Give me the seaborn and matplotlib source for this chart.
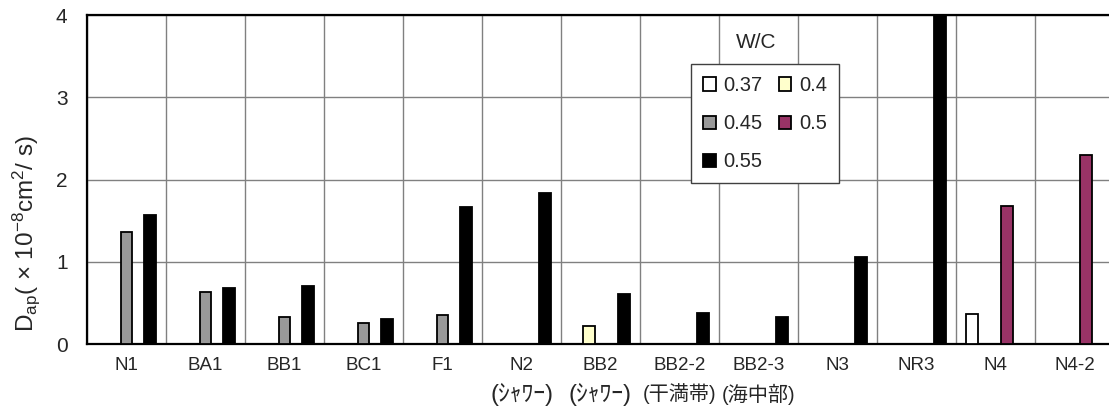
import numpy as np
import pandas as pd
import matplotlib
matplotlib.use("Agg")
import matplotlib.pyplot as plt
import matplotlib.transforms as mtransforms
from matplotlib.ticker import FixedLocator
import seaborn as sns

# Specimen codes along the x axis and their exposure notes (second line)
sites = ["N1", "BA1", "BB1", "BC1", "F1", "N2", "BB2", "BB2-2", "BB2-3",
         "N3", "NR3", "N4", "N4-2"]
exposure = ["", "", "", "", "", "(ｼｬﾜｰ)", "(ｼｬﾜｰ)", "(干満帯)", "(海中部)",
            "", "", "", ""]

# Water/cement ratio series
wc_levels = ["0.37", "0.4", "0.45", "0.5", "0.55"]
nan = np.nan
d_037 = [nan, nan, nan, nan, nan, nan, nan, nan, nan, nan, nan, 0.37, nan]
d_040 = [nan, nan, nan, nan, nan, nan, 0.22, nan, nan, nan, nan, nan, nan]
d_045 = [1.36, 0.63, 0.33, 0.25, 0.35, nan, nan, nan, nan, nan, nan, nan, nan]
d_050 = [nan, nan, nan, nan, nan, nan, nan, nan, nan, nan, nan, 1.68, 2.30]
d_055 = [1.57, 0.68, 0.71, 0.31, 1.66, 1.84, 0.61, 0.38, 0.33, 1.06, 4.0, nan, nan]

wc_colors = ["#FFFFFF", "#FFFFCC", "#999999", "#993366", "#000000"]

series = dict(zip(wc_levels, [d_037, d_040, d_045, d_050, d_055]))
rows = []
for wc, vals in series.items():
    for site, v in zip(sites, vals):
        if not np.isnan(v):
            rows.append({"site": site, "wc": wc, "dap": v})
df = pd.DataFrame(rows)

sns.set_style("white")
plt.rcParams["font.family"] = ["Liberation Sans", "Noto Sans CJK JP"]
plt.rcParams["mathtext.fontset"] = "custom"
plt.rcParams["mathtext.rm"] = "Liberation Sans"
plt.rcParams["mathtext.it"] = "Liberation Sans:italic"

W, H = 1109, 419
fig = plt.figure(figsize=(W / 100, H / 100), dpi=100)
ax = fig.add_axes([87 / W, 1 - 344 / H, (1114 - 87) / W, (344 - 15) / H])

sns.barplot(data=df, x="site", y="dap", hue="wc", order=sites,
            hue_order=wc_levels, palette=wc_colors, errorbar=None,
            width=0.75, gap=0, edgecolor="black", linewidth=1.3,
            saturation=1, ax=ax, zorder=3)

handles, labels = ax.get_legend_handles_labels()
if ax.get_legend() is not None:
    ax.get_legend().remove()

ax.set_ylim(0, 4)
ax.set_xlim(-0.5, len(sites) - 0.5)
ax.set_yticks([0, 1, 2, 3, 4])
ax.xaxis.set_minor_locator(FixedLocator(np.arange(-0.5, len(sites), 1.0)))
ax.grid(axis="y", which="major", color="#808080", linewidth=1.0, zorder=0)
ax.grid(axis="x", which="minor", color="#808080", linewidth=1.0, zorder=0)
ax.grid(axis="x", which="major", visible=False)
ax.set_axisbelow(True)

for side in ["left", "bottom", "top", "right"]:
    ax.spines[side].set_color("black")
    ax.spines[side].set_linewidth(1.6)

ax.tick_params(axis="both", which="both", length=0)
ax.tick_params(axis="y", labelsize=15, pad=14)
ax.tick_params(axis="x", labelsize=13.5, pad=9)
ax.set_xlabel("")
ax.set_ylabel("")

# Exposure condition under the specimen code
trans = mtransforms.blended_transform_factory(ax.transData, ax.transAxes)
for i, note in enumerate(exposure):
    if note:
        size = 17 if "ｼ" in note else 14.5
        ax.text(i, -0.152, note, transform=trans, ha="center", va="center",
                fontsize=size)

fig.text(26 / W, 1 - 234 / H,
         r"D$_{\mathrm{ap}}$( × 10$^{-8}$cm$^{2}$/ s)",
         rotation=90, ha="center", va="center", fontsize=17.5)

# Legend laid out row by row: 0.37 0.4 / 0.45 0.5 / 0.55
order = [0, 2, 4, 1, 3]
leg = ax.legend([handles[i] for i in order], [labels[i] for i in order],
                ncol=2, loc="upper left",
                bbox_to_anchor=(691 / W, 1 - 64 / H),
                bbox_transform=fig.transFigure,
                frameon=True, fancybox=False, shadow=False,
                edgecolor="#404040", framealpha=1, fontsize=14.5,
                handlelength=0.62, handleheight=0.62, handletextpad=0.4,
                columnspacing=0.8, labelspacing=0.95, borderpad=0.6,
                borderaxespad=0)
leg.get_frame().set_linewidth(1.0)
leg.set_zorder(5)

fig.text(756 / W, 1 - 43 / H, "W/C", ha="center", va="center", fontsize=15)

fig.savefig("out.png", dpi=100)
